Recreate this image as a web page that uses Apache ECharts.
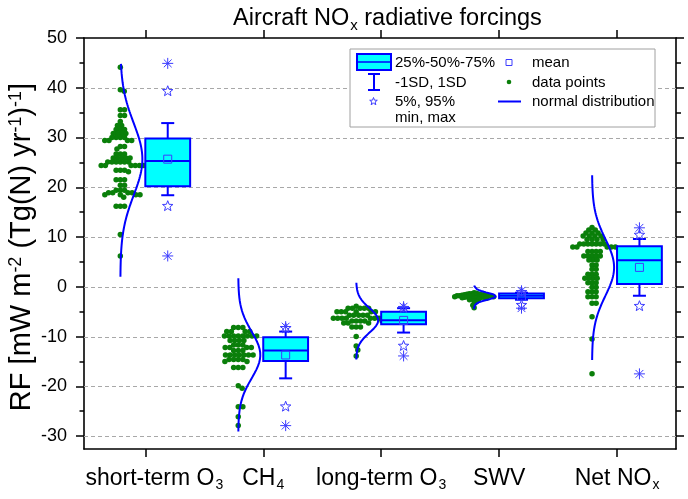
<!DOCTYPE html>
<html><head><meta charset="utf-8">
<script src="https://cdn.jsdelivr.net/npm/echarts@6/dist/echarts.min.js"></script>
<style>html,body{margin:0;padding:0;background:#fff}#c{width:688px;height:499px}</style>
</head><body><div id="c"></div>
<script>
// ---------------- data ----------------
const categories = ['short-term O3', 'CH4', 'long-term O3', 'SWV', 'Net NOx'];
const categoryLabels = ['{g|}short-term O{s|3}', 'CH{s|4}', 'long-term O{s|3}', 'SWV', 'Net NO{s|x}'];
const yAxisTitle = 'RF [mW m{p|-2} (Tg(N) yr{p|-1}){p|-1}]';
const chartTitle = 'Aircraft NO{s|x} radiative forcings';

const shortTermO3 = [44.1, 39.6, 39.3, 35.6, 35.6, 34.4, 34.4, 33.2, 32.4, 32.4, 31.6, 31.6, 31.6, 30.8, 30.8, 30.8, 30.8, 30.0, 30.0, 30.0, 30.0, 29.4, 29.4, 29.4, 29.4, 28.2, 28.2, 27.7, 26.7, 26.7, 26.7, 25.9, 25.9, 25.9, 25.9, 25.9, 25.1, 25.1, 25.1, 25.1, 25.1, 25.1, 24.4, 24.4, 24.4, 24.4, 24.4, 24.4, 23.4, 23.4, 23.4, 23.1, 21.5, 21.5, 21.5, 20.4, 20.4, 19.4, 19.4, 19.4, 18.9, 18.9, 18.9, 18.9, 18.5, 18.5, 18.5, 18.5, 18.0, 16.2, 16.2, 16.2, 10.5, 6.2];
const ch4 = [-8.2, -8.2, -8.2, -9.0, -9.0, -9.0, -9.0, -9.9, -9.9, -9.9, -9.9, -9.9, -9.9, -9.9, -9.9, -10.8, -10.8, -10.8, -10.8, -11.7, -11.7, -11.7, -12.2, -12.2, -12.2, -12.2, -12.8, -12.8, -12.8, -13.7, -13.7, -13.7, -13.7, -13.7, -13.7, -13.7, -14.6, -14.6, -14.6, -14.6, -15.0, -15.0, -16.2, -16.2, -16.2, -19.9, -20.4, -24.1, -24.1, -26.1, -27.9];
const longTermO3 = [-3.9, -4.3, -4.3, -4.3, -4.3, -4.3, -5.0, -5.0, -5.0, -5.0, -5.0, -5.0, -5.7, -5.7, -5.7, -5.7, -5.7, -6.3, -6.3, -6.3, -6.3, -6.3, -6.3, -6.3, -6.9, -6.9, -6.9, -6.9, -6.9, -7.3, -7.3, -7.3, -8.1, -8.1, -8.1, -10.0, -11.9, -12.7, -13.9];
const swv = [-1.2, -1.3, -1.4, -1.4, -1.5, -1.5, -1.6, -1.6, -1.6, -1.7, -1.7, -1.7, -1.8, -1.8, -1.8, -1.8, -1.9, -1.9, -1.9, -2.0, -2.0, -2.0, -2.0, -2.1, -2.1, -2.1, -2.2, -2.2, -2.3, -2.3, -2.4, -2.5, -2.6, -2.8, -3.0, -3.3, -3.7, -4.2];
const netNOx = [11.9, 11.4, 11.4, 10.8, 10.8, 10.8, 10.2, 10.2, 10.2, 10.2, 9.5, 9.5, 9.5, 9.5, 8.6, 8.6, 8.6, 8.6, 8.6, 8.6, 8.6, 8.0, 8.0, 8.0, 8.0, 8.0, 7.1, 7.1, 7.1, 7.1, 6.2, 6.2, 6.2, 6.2, 6.2, 5.4, 5.4, 5.4, 4.4, 4.4, 3.5, 3.5, 2.5, 2.5, 2.5, 1.7, 1.7, 1.7, 1.7, 0.8, 0.8, 0.8, -0.1, -0.1, -1.0, -1.0, -1.0, -2.0, -2.0, -2.0, -3.3, -3.3, -6.0, -10.5, -17.5];

// box statistics per category
const q1 = [20.2, -14.9, -7.55, -2.3, 0.55];
const median = [25.3, -12.8, -6.7, -1.8, 5.35];
const q3 = [29.8, -10.15, -5.0, -1.35, 8.15];
const mean = [25.65, -13.7, -6.75, -1.9, 3.9];
const sd = [7.25, 4.7, 2.45, 0.7, 5.7];
const p5 = [16.2, -24.1, -11.9, -3.7, -3.9];
const p95 = [39.3, -8.35, -4.3, -1.1, 10.4];
const minVal = [6.2, -27.9, -13.9, -4.3, -17.5];
const maxVal = [44.9, -8.0, -4.0, -0.8, 11.85];
// extent of drawn normal distribution curves
const curveLo = [2.0, -29.1, -14.6, -4.5, -14.7];
const curveHi = [44.8, 1.7, 0.8, 0.35, 22.4];

const yMajor = [-30, -20, -10, 0, 10, 20, 30, 40, 50];
const yMinor = [-25, -15, -5, 5, 15, 25, 35, 45];
const gridValues = [-30, -20, -10, 0, 10, 20, 30, 40];

// ---------------- layout/style ----------------
const FF = 'Liberation Sans, Arial, sans-serif';
const X_MIN = 0.48, X_MAX = 5.5, Y_MIN = -32.6, Y_MAX = 50;
const G = {left: 84, right: 12, top: 38, bottom: 50};
const PX_X = (688 - G.left - G.right) / (X_MAX - X_MIN);
const PX_Y = (499 - G.top - G.bottom) / (Y_MAX - Y_MIN);
const dotOffset = -0.212, curveAmp = 0.187, boxOffset = 0.19, boxHalf = 0.19;
const swarmGap = [4.2, 4.6, 4.3, 2.5, 4.1];
const BLUE = '#0000FF', SYM = '#3c3cff', GREEN = '#0a7f0a';

const groups = [shortTermO3, ch4, longTermO3, swv, netNOx];

function swarm(vals, gap) {
  const placed = [];
  const order = vals.map((v, i) => i).sort((a, b) => vals[b] - vals[a]);
  const out = new Array(vals.length);
  for (const i of order) {
    const y = vals[i] * PX_Y;
    const cands = [0];
    for (const p of placed) {
      const dy = Math.abs(p.y - y);
      if (dy < gap) { const dx = Math.sqrt(gap * gap - dy * dy); cands.push(p.x + dx, p.x - dx); }
    }
    cands.sort((a, b) => Math.abs(a) - Math.abs(b));
    let best = 0;
    for (const c of cands) {
      if (placed.every(p => (p.x - c) * (p.x - c) + (p.y - y) * (p.y - y) >= gap * gap - 1e-6)) { best = c; break; }
    }
    placed.push({x: best, y});
    out[i] = best / PX_X;
  }
  return out;
}

const dotData = [];
groups.forEach((vals, gi) => {
  const offs = swarm(vals, swarmGap[gi]);
  vals.forEach((v, i) => dotData.push([gi + 1 + dotOffset + offs[i], v]));
});

const curveSeries = categories.map((name, i) => {
  const pts = [];
  const N = 90;
  for (let k = 0; k < N; k++) {
    const y = curveLo[i] + (curveHi[i] - curveLo[i]) * k / (N - 1);
    const z = (y - mean[i]) / sd[i];
    pts.push([i + 1 + dotOffset + curveAmp * Math.exp(-0.5 * z * z), y]);
  }
  return {type: 'line', name: name + ' normal', data: pts, showSymbol: false, symbol: 'none',
    lineStyle: {color: BLUE, width: 2}, z: 3, silent: true};
});

const boxRows = categories.map((_, i) => [i + 1, q1[i], median[i], q3[i], mean[i], sd[i], p5[i], p95[i], minVal[i], maxVal[i]]);

function starShape(cx, cy, r) {
  const pts = [];
  for (let k = 0; k < 10; k++) {
    const rr = k % 2 === 0 ? r : r * 0.42;
    const a = -Math.PI / 2 + k * Math.PI / 5;
    pts.push([cx + rr * Math.cos(a), cy + rr * Math.sin(a)]);
  }
  return {type: 'polygon', shape: {points: pts}, style: {fill: 'none', stroke: SYM, lineWidth: 1}};
}
function asterisk(cx, cy, r) {
  const ch = [];
  [0, 45, 90, 135].forEach(deg => {
    const a = deg * Math.PI / 180;
    ch.push({type: 'line', shape: {x1: cx - r * Math.cos(a), y1: cy - r * Math.sin(a), x2: cx + r * Math.cos(a), y2: cy + r * Math.sin(a)},
      style: {stroke: SYM, lineWidth: 1}});
  });
  return {type: 'group', children: ch};
}

function renderBox(params, api) {
  const c = api.value(0) + boxOffset;
  const X = v => api.coord([v, 0])[0];
  const Y = v => api.coord([c, v])[1];
  const xl = X(c - boxHalf), xr = X(c + boxHalf), xm = X(c);
  const yq1 = Y(api.value(1)), ymd = Y(api.value(2)), yq3 = Y(api.value(3));
  const m = api.value(4), s = api.value(5);
  const sHi = Y(m + s), sLo = Y(m - s);
  const capW = 6.5;
  const ls = {stroke: BLUE, lineWidth: 2};
  const ch = [];
  ch.push({type: 'line', shape: {x1: xm, y1: yq3, x2: xm, y2: sHi}, style: ls});
  ch.push({type: 'line', shape: {x1: xm - capW, y1: sHi, x2: xm + capW, y2: sHi}, style: ls});
  ch.push({type: 'line', shape: {x1: xm, y1: yq1, x2: xm, y2: sLo}, style: ls});
  ch.push({type: 'line', shape: {x1: xm - capW, y1: sLo, x2: xm + capW, y2: sLo}, style: ls});
  ch.push({type: 'rect', shape: {x: xl, y: yq3, width: xr - xl, height: yq1 - yq3}, style: {fill: '#00FFFF', stroke: BLUE, lineWidth: 2}});
  ch.push({type: 'line', shape: {x1: xl, y1: ymd, x2: xr, y2: ymd}, style: ls});
  const ym = Y(m);
  ch.push({type: 'rect', shape: {x: xm - 4, y: ym - 4, width: 8, height: 8}, style: {fill: 'none', stroke: SYM, lineWidth: 1}});
  ch.push(starShape(xm, Y(api.value(6)), 5.5));
  ch.push(starShape(xm, Y(api.value(7)), 5.5));
  ch.push(asterisk(xm, Y(api.value(8)), 5.5));
  ch.push(asterisk(xm, Y(api.value(9)), 5.5));
  return {type: 'group', children: ch};
}

function renderGrid(params, api) {
  const cs = params.coordSys;
  const y = Math.round(api.coord([1, api.value(1)])[1]) + 0.5;
  return {type: 'line', shape: {x1: cs.x, y1: y, x2: cs.x + cs.width, y2: y},
    style: {stroke: '#a8a8a8', lineWidth: 1, lineDash: [4, 3]}};
}

const axisLineStyle = {color: '#000', width: 1.6};
function yAx(pos, ticks, len, withLabel, withLine) {
  return {
    type: 'value', min: Y_MIN, max: Y_MAX, position: pos,
    axisLine: {show: withLine, onZero: false, lineStyle: axisLineStyle},
    axisTick: {show: true, inside: false, customValues: ticks, length: len, lineStyle: {color: '#000', width: 1.5}},
    axisLabel: withLabel ? {customValues: ticks, fontSize: 18, color: '#000', fontFamily: FF, margin: 17} : {show: false},
    splitLine: {show: false}
  };
}
function xAx(pos, withLabel) {
  return {
    type: 'value', min: X_MIN, max: X_MAX, position: pos,
    axisLine: {show: true, onZero: false, lineStyle: axisLineStyle},
    axisTick: {show: true, inside: false, customValues: [1, 2, 3, 4, 5], length: 8, lineStyle: {color: '#000', width: 1.5}},
    axisLabel: withLabel ? {
      customValues: [1, 2, 3, 4, 5], margin: 17, color: '#000', fontSize: 23, fontFamily: FF, lineHeight: 26,
      formatter: v => categoryLabels[Math.round(v) - 1],
      rich: {
        s: {fontSize: 14, fontFamily: FF, color: '#000', verticalAlign: 'bottom', lineHeight: 14, padding: [18, 0, 0, 1]},
        g: {width: 18}
      }
    } : {show: false},
    splitLine: {show: false}
  };
}

const LX = 350, LY = 49;
const legendText = (x, y, t) => ({type: 'text', x, y, z: 101, style: {text: t, fill: '#000', font: '15px ' + FF, verticalAlign: 'middle'}});
const graphic = [
  {type: 'text', x: 22, y: 247, rotation: Math.PI / 2, z: 50,
    style: {text: yAxisTitle, fill: '#000', fontSize: 29, fontFamily: FF, align: 'center', verticalAlign: 'middle',
      rich: {p: {fontSize: 18, fontFamily: FF, fill: '#000', verticalAlign: 'top', lineHeight: 18, padding: [0, 0, 20, 0]}}}},
  {type: 'rect', z: 100, shape: {x: LX, y: LY, width: 305, height: 78}, style: {fill: '#fff', stroke: '#a0a0a0', lineWidth: 1}},
  {type: 'rect', z: 101, shape: {x: 357, y: 54, width: 34, height: 16}, style: {fill: '#00FFFF', stroke: BLUE, lineWidth: 2}},
  {type: 'line', z: 102, shape: {x1: 357, y1: 62, x2: 391, y2: 62}, style: {stroke: BLUE, lineWidth: 1.5}},
  legendText(395, 63, '25%-50%-75%'),
  {type: 'line', z: 101, shape: {x1: 374, y1: 74, x2: 374, y2: 90}, style: {stroke: BLUE, lineWidth: 2}},
  {type: 'line', z: 101, shape: {x1: 368, y1: 74, x2: 380, y2: 74}, style: {stroke: BLUE, lineWidth: 2}},
  {type: 'line', z: 101, shape: {x1: 368, y1: 90, x2: 380, y2: 90}, style: {stroke: BLUE, lineWidth: 2}},
  legendText(395, 82.5, '-1SD, 1SD'),
  Object.assign(starShape(373.5, 101.5, 4), {z: 101}),
  legendText(395, 102, '5%, 95%'),
  Object.assign(asterisk(373.5, 117.5, 3.5), {z: 101}),
  legendText(395, 118, 'min, max'),
  {type: 'rect', z: 101, shape: {x: 506, y: 59.5, width: 6, height: 6}, style: {fill: 'none', stroke: SYM, lineWidth: 1}},
  legendText(532, 63, 'mean'),
  {type: 'circle', z: 101, shape: {cx: 509, cy: 82, r: 2.3}, style: {fill: GREEN}},
  legendText(532, 82.5, 'data points'),
  {type: 'line', z: 101, shape: {x1: 498, y1: 101.5, x2: 521, y2: 101.5}, style: {stroke: BLUE, lineWidth: 2}},
  legendText(532, 102, 'normal distribution')
];

const option = {
  animation: false,
  backgroundColor: '#fff',
  title: {
    text: chartTitle, left: 228, top: 0,
    textStyle: {fontSize: 23.5, fontWeight: 'normal', color: '#000', fontFamily: FF, lineHeight: 28,
      rich: {s: {fontSize: 15, fontFamily: FF, color: '#000', verticalAlign: 'bottom', lineHeight: 15, padding: [14, 0, 0, 1]}}}
  },
  grid: {left: G.left, right: G.right, top: G.top, bottom: G.bottom, containLabel: false, outerBoundsMode: 'none'},
  xAxis: [xAx('bottom', true), xAx('top', false)],
  yAxis: [
    yAx('left', yMajor, 8, true, true),
    yAx('left', yMinor, 4.5, false, false),
    yAx('right', yMajor, 8, false, true),
    yAx('right', yMinor, 5, false, false)
  ],
  series: [
    {type: 'custom', name: 'grid', data: gridValues.map(v => [1, v]), encode: {x: 0, y: 1}, renderItem: renderGrid, z: 1, silent: true},
    {type: 'scatter', name: 'data points', data: dotData, symbolSize: 5.5, itemStyle: {color: GREEN, opacity: 1}, z: 2, silent: true},
    ...curveSeries,
    {type: 'custom', name: 'box', data: boxRows, encode: {x: 0, y: [1, 3]}, renderItem: renderBox, z: 4, silent: true}
  ],
  graphic: graphic
};

const chart = echarts.init(document.getElementById('c'), null, {renderer: 'canvas'});
chart.setOption(option);
</script>
</body></html>
